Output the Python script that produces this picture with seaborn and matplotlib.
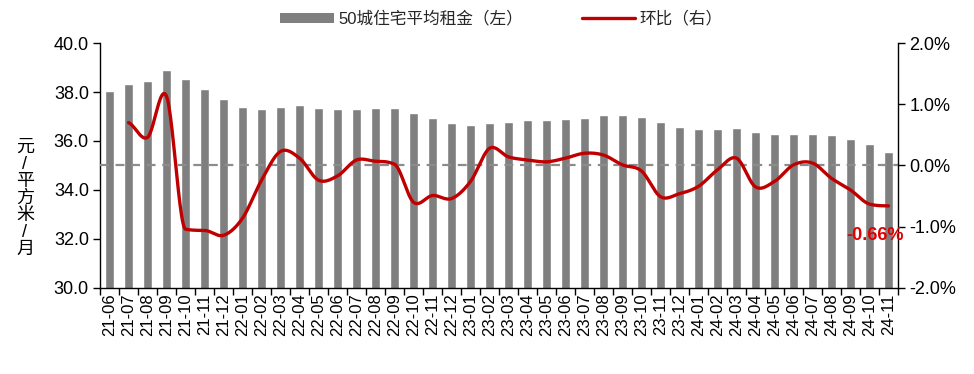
import numpy as np
import pandas as pd
import matplotlib
matplotlib.use("Agg")
import matplotlib.pyplot as plt
import seaborn as sns
from matplotlib.patches import Patch
from matplotlib.lines import Line2D
from matplotlib.ticker import FixedLocator, FuncFormatter

# ---- data ----
months = ["21-06", "21-07", "21-08", "21-09", "21-10", "21-11", "21-12",
          "22-01", "22-02", "22-03", "22-04", "22-05", "22-06", "22-07",
          "22-08", "22-09", "22-10", "22-11", "22-12",
          "23-01", "23-02", "23-03", "23-04", "23-05", "23-06", "23-07",
          "23-08", "23-09", "23-10", "23-11", "23-12",
          "24-01", "24-02", "24-03", "24-04", "24-05", "24-06", "24-07",
          "24-08", "24-09", "24-10", "24-11"]
rent = [38.05, 38.31, 38.46, 38.91, 38.52, 38.11, 37.70,
        37.40, 37.29, 37.40, 37.46, 37.35, 37.29, 37.29,
        37.35, 37.35, 37.14, 36.94, 36.73,
        36.64, 36.73, 36.79, 36.84, 36.84, 36.90, 36.94,
        37.05, 37.05, 36.99, 36.79, 36.58,
        36.49, 36.49, 36.54, 36.38, 36.29, 36.29, 36.29,
        36.23, 36.08, 35.88, 35.56]
mom = [np.nan, 0.70, 0.46, 1.13, -1.04, -1.06, -1.14,
       -0.86, -0.24, 0.23, 0.12, -0.24, -0.17, 0.09,
       0.07, 0.02, -0.60, -0.49, -0.54,
       -0.26, 0.28, 0.14, 0.09, 0.06, 0.12, 0.20,
       0.17, 0.01, -0.09, -0.51, -0.46,
       -0.34, -0.07, 0.12, -0.35, -0.26, 0.01, 0.04,
       -0.21, -0.40, -0.63, -0.66]
legend_labels = ["50城住宅平均租金（左）", "环比（右）"]
ylabel = "元/平方米/月"
last_label = "-0.66%"

BAR = "#7f7f7f"
RED = "#c00000"


def smooth(x, y, n=24):
    """Smoothed rendering of the polyline: Catmull-Rom tangents with
    Fritsch-Carlson limiting to avoid large overshoots (visual only)."""
    x = np.asarray(x, float)
    y = np.asarray(y, float)
    h = np.diff(x)
    d = np.diff(y) / h
    m = np.zeros_like(y)
    m[1:-1] = (y[2:] - y[:-2]) / (x[2:] - x[:-2])
    m[0] = d[0] * 0.5
    m[-1] = d[-1] * 0.5
    for k in range(len(d)):
        if abs(d[k]) < 1e-9:
            continue
        a = m[k] / d[k]
        b = m[k + 1] / d[k]
        s = a * a + b * b
        if s > 9 and a > 0 and b > 0:
            tau = 3 / np.sqrt(s)
            m[k] = tau * a * d[k]
            m[k + 1] = tau * b * d[k]
    t = np.linspace(0, 1, n, endpoint=False)
    h00 = 2 * t ** 3 - 3 * t ** 2 + 1
    h10 = t ** 3 - 2 * t ** 2 + t
    h01 = -2 * t ** 3 + 3 * t ** 2
    h11 = t ** 3 - t ** 2
    ox, oy = [], []
    for k in range(len(y) - 1):
        ox.extend(x[k] + t * h[k])
        oy.extend(h00 * y[k] + h10 * h[k] * m[k] + h01 * y[k + 1] + h11 * h[k] * m[k + 1])
    ox.append(x[-1])
    oy.append(y[-1])
    return np.array(ox), np.array(oy)


sns.set_theme(style="white")
plt.rcParams["font.family"] = ["Liberation Sans", "Noto Sans CJK SC", "DejaVu Sans"]

fig = plt.figure(figsize=(9.74, 3.74), dpi=100)
ax = fig.add_axes([0.1027, 0.23, 0.8193, 0.655])

df = pd.DataFrame({"month": months, "rent": rent, "mom": mom})
sns.barplot(data=df, x="month", y="rent", color=BAR, saturation=1,
            width=0.45, ax=ax, zorder=2)
ax.set_xlim(-0.5, len(months) - 0.5)
ax.set_ylim(30, 40)
ax.set_yticks(np.arange(30, 40.01, 2))
ax.yaxis.set_major_formatter(FuncFormatter(lambda v, p: f"{v:.1f}"))
ax.set_xlabel("")
ax.set_ylabel("")
ax.tick_params(axis="y", direction="out", length=5, width=1, color="black",
               labelsize=13, labelcolor="black", left=True, pad=3)
ax.tick_params(axis="x", which="major", length=0, labelsize=12,
               labelrotation=90, labelcolor="black", pad=4)
ax.xaxis.set_minor_locator(FixedLocator(np.arange(-0.5, len(months), 1)))
ax.tick_params(axis="x", which="minor", direction="out", length=5, width=1,
               color="black", bottom=True)
for s in ["top", "right"]:
    ax.spines[s].set_visible(False)
for s in ["left", "bottom"]:
    ax.spines[s].set_color("black")
    ax.spines[s].set_linewidth(1)

ax2 = ax.twinx()
ax2.set_ylim(-2, 2)
ax2.set_yticks(np.arange(-2, 2.01, 1))
ax2.yaxis.set_major_formatter(FuncFormatter(lambda v, p: f"{v:.1f}%"))
ax2.tick_params(axis="y", direction="out", length=5, width=1, color="black",
                labelsize=13, labelcolor="black", right=True, pad=3)
for s in ["top", "left", "bottom"]:
    ax2.spines[s].set_visible(False)
ax2.spines["right"].set_color("black")
ax2.spines["right"].set_linewidth(1)
ax2.grid(False)
ax.grid(False)

ax2.axhline(0, color="#8c8c8c", lw=1.6, ls=(0, (4, 3)), zorder=1)

valid = df["mom"].notna().to_numpy()
xs = np.arange(len(months))[valid]
ys = df["mom"].to_numpy()[valid]
sx, sy = smooth(xs, ys)
ax2.plot(sx, sy, color=RED, lw=2.4, solid_capstyle="round", zorder=3)

ax2.text(len(months) - 1.7, -1.15, last_label, color="#e00000", fontsize=13,
         fontweight="bold", ha="center", va="center")

fig.text(25 / 974, 0.47, "\n".join(ylabel), ha="center", va="center",
         fontsize=13, linespacing=1.0, color="black")

handles = [Patch(facecolor=BAR, edgecolor="none"),
           Line2D([0], [0], color=RED, lw=2.4)]
fig.legend(handles, legend_labels, loc="center", bbox_to_anchor=(0.515, 0.95),
           ncol=2, frameon=False, fontsize=12, handlelength=3.2,
           handleheight=0.5, columnspacing=3.5, handletextpad=0.3)

fig.savefig("out.png", dpi=100)
